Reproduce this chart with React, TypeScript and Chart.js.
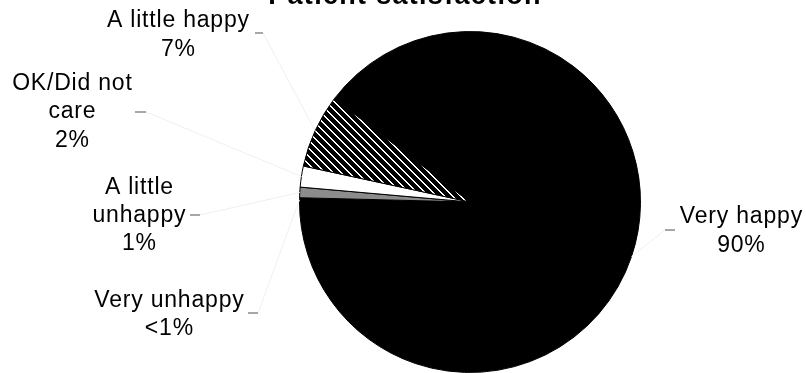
import React, { useEffect, useRef } from "react";
import { Chart, registerables } from "chart.js";

Chart.register(...registerables);

// Survey answers, listed clockwise from 9 o'clock
const categories = ["Very unhappy", "A little\nunhappy", "OK/Did not\ncare", "A little happy", "Very happy"];
const shares = [0.4, 1, 2, 7, 90];
const shareLabels = ["<1%", "1%", "2%", "7%", "90%"];
const chartTitle = "Patient satisfaction";

// Where each callout sits: text centre x, first baseline, and the short tick beside it
const calloutPlacement = [
  { cx: 169, baseline: 306.7, tick: [248, 258, 313], tickEnd: 258 },
  { cx: 139, baseline: 193.5, tick: [190, 200, 215], tickEnd: 200 },
  { cx: 72, baseline: 90, tick: [135, 146, 112], tickEnd: 146 },
  { cx: 178, baseline: 27.3, tick: [255, 263, 33], tickEnd: 263 },
  { cx: 741, baseline: 223.3, tick: [665, 675, 230], tickEnd: 665 },
];

// black tile crossed by white "\" diagonals
function makeHatch(): CanvasPattern | string {
  const size = 8;
  const tile = document.createElement("canvas");
  tile.width = size;
  tile.height = size;
  const c = tile.getContext("2d");
  if (!c) return "#000";
  c.fillStyle = "#000";
  c.fillRect(0, 0, size, size);
  c.fillStyle = "#fff";
  for (let i = 0; i < size; i++) {
    c.fillRect(i, i, 1, 1);
    c.fillRect((i + 1) % size, i, 1, 1);
  }
  const main = document.createElement("canvas").getContext("2d");
  return (main && main.createPattern(tile, "repeat")) || "#000";
}

const calloutPlugin = {
  id: "pieCallouts",
  afterDatasetsDraw(chart: Chart) {
    const ctx = chart.ctx;
    const meta = chart.getDatasetMeta(0);
    ctx.save();

    // title (sits partly above the canvas top)
    ctx.fillStyle = "#000";
    ctx.font = "bold 27px 'Liberation Sans', Arial, sans-serif";
    (ctx as any).letterSpacing = "1.3px";
    ctx.textAlign = "center";
    ctx.textBaseline = "alphabetic";
    ctx.fillText(chartTitle, 405, 4);

    ctx.font = "23px 'Liberation Sans', Arial, sans-serif";
    (ctx as any).letterSpacing = "0.8px";
    const lineHeight = 28.3;

    meta.data.forEach((el: any, i: number) => {
      const p = calloutPlacement[i];
      const { x, y, startAngle, endAngle, outerRadius } = el.getProps(
        ["x", "y", "startAngle", "endAngle", "outerRadius"],
        true
      );
      const mid = (startAngle + endAngle) / 2;
      const ax = x + Math.cos(mid) * outerRadius;
      const ay = y + Math.sin(mid) * outerRadius;

      // faint leader line from the tick to the slice edge
      ctx.strokeStyle = "#efefef";
      ctx.lineWidth = 1;
      ctx.beginPath();
      ctx.moveTo(p.tickEnd, p.tick[2]);
      ctx.lineTo(ax, ay);
      ctx.stroke();

      // short grey tick next to the text
      ctx.strokeStyle = "#8a8a8a";
      ctx.lineWidth = 1.5;
      ctx.beginPath();
      ctx.moveTo(p.tick[0], p.tick[2]);
      ctx.lineTo(p.tick[1], p.tick[2]);
      ctx.stroke();

      const lines = [...categories[i].split("\n"), shareLabels[i]];
      ctx.fillStyle = "#000";
      lines.forEach((t, k) => {
        ctx.fillText(t, p.cx + 0.4, p.baseline + k * lineHeight);
      });
    });
    ctx.restore();
  },
};

export default function App() {
  const canvasRef = useRef<HTMLCanvasElement | null>(null);

  useEffect(() => {
    const canvas = canvasRef.current;
    if (!canvas) return;
    const hatch = makeHatch();
    const chart = new Chart(canvas, {
      type: "pie",
      data: {
        labels: categories.map((c) => c.replace("\n", " ")),
        datasets: [
          {
            data: shares,
            backgroundColor: ["#000000", "#8c8c8c", "#ffffff", hatch as any, "#000000"],
            borderColor: "#000000",
            borderWidth: 1,
          },
        ],
      },
      options: {
        responsive: false,
        animation: false,
        rotation: 270,
        layout: { padding: { left: 299, right: 165, top: 31, bottom: 0 } },
        plugins: {
          legend: { display: false },
          tooltip: { enabled: false },
          title: { display: false },
        },
      },
      plugins: [calloutPlugin],
    });
    return () => chart.destroy();
  }, []);

  return (
    <div style={{ position: "fixed", left: 0, top: 0, width: 806, height: 373, background: "#fff" }}>
      <canvas ref={canvasRef} width={806} height={373} style={{ width: 806, height: 373, display: "block" }} />
    </div>
  );
}
